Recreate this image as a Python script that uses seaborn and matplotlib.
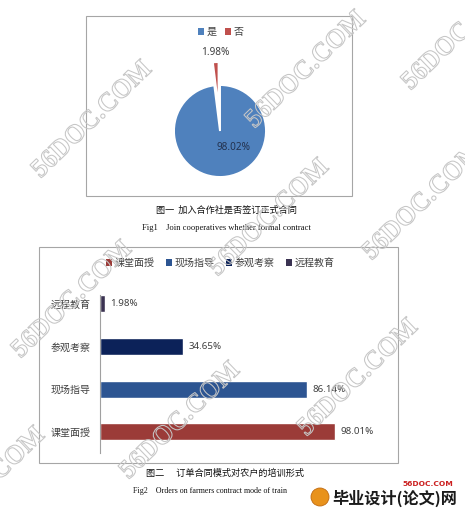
import matplotlib
matplotlib.use("Agg")
import matplotlib.pyplot as plt
import matplotlib.patheffects as pe
from matplotlib.patches import Rectangle, Ellipse
import seaborn as sns
import pandas as pd

# ---------------- data ----------------
pie_labels = ["是", "否"]
pie_values = [98.02, 1.98]
pie_colors = ["#4f81bd", "#c0504d"]

bar_categories = ["远程教育", "参观考察", "现场指导", "课堂面授"]   # top -> bottom
bar_values = [1.98, 34.65, 86.14, 98.01]
bar_colors = ["#3b3352", "#0c2259", "#2d5592", "#9b3b38"]
legend_order = ["课堂面授", "现场指导", "参观考察", "远程教育"]

caption1_cn = "图一  加入合作社是否签订正式合同"
caption1_en = "Fig1    Join cooperatives whether formal contract"
caption2_cn = "图二      订单合同模式对农户的培训形式"
caption2_en = "Fig2    Orders on farmers contract mode of train"

# ---------------- setup ----------------
sns.set_theme(style="white")
plt.rcParams["font.family"] = ["Noto Sans CJK SC", "DejaVu Sans"]

W, H = 465, 512
fig = plt.figure(figsize=(W / 100, H / 100), dpi=100)
fig.patch.set_facecolor("white")


def rect(l, t, w, h):
    return [l / W, 1 - (t + h) / H, w / W, h / H]


def fx(x):
    return x / W


def fy(y):
    return 1 - y / H


# frames
for (l, t, w, h) in [(86, 16, 266, 180), (39, 247, 359, 216)]:
    fig.patches.append(Rectangle((l / W, 1 - (t + h) / H), w / W, h / H,
                                 transform=fig.transFigure, fill=False,
                                 edgecolor="#a6a6a6", linewidth=0.8))

# ---------------- pie ----------------
R = 46
L = 1.7
axp = fig.add_axes(rect(220 - L * R, 131 - L * R, 2 * L * R, 2 * L * R))
axp.pie(pie_values, colors=pie_colors, startangle=90, counterclock=False,
        explode=[0, 0.5], radius=1,
        wedgeprops=dict(edgecolor="white", linewidth=1.4))
axp.set_xlim(-L, L)
axp.set_ylim(-L, L)
axp.set_aspect("equal")
axp.axis("off")
axp.text(0.30, -0.35, f"{pie_values[0]:.2f}%", ha="center", va="center",
         fontsize=7.2, color="#23324f", family=["Noto Sans", "DejaVu Sans"])
axp.text(-0.11, 1.70, f"{pie_values[1]:.2f}%", ha="center", va="center",
         fontsize=7.2, color="#404040", family=["Noto Sans", "DejaVu Sans"])

pie_handles = [Rectangle((0, 0), 1, 1, facecolor=c, edgecolor="none") for c in pie_colors]
fig.legend(pie_handles, pie_labels, loc="center", bbox_to_anchor=(fx(221), fy(32)),
           ncol=2, frameon=False, fontsize=7.2, handlelength=0.6, handleheight=0.6,
           handletextpad=0.3, columnspacing=0.8, labelcolor="#404040")

fig.text(fx(226), fy(210), caption1_cn, ha="center", va="center", fontsize=6.6,
         color="#111111")
fig.text(fx(226), fy(228), caption1_en, ha="center", va="center", fontsize=6.1,
         color="#111111", family=["Liberation Serif"])

# ---------------- bars ----------------
axb = fig.add_axes(rect(100, 453 - 4 * 42.6, 288, 4 * 42.6))
df = pd.DataFrame({"cat": bar_categories, "val": bar_values})
sns.barplot(data=df, x="val", y="cat", hue="cat", order=bar_categories,
            hue_order=bar_categories, palette=bar_colors, orient="h",
            width=0.4, dodge=False, legend=False, ax=axb, saturation=1)
axb.set_xlim(0, 120)
axb.set_ylim(3.5, -0.5)
axb.set_xlabel("")
axb.set_ylabel("")
axb.set_xticks([])
for s in ["top", "right", "bottom"]:
    axb.spines[s].set_visible(False)
axb.spines["left"].set_color("#a0a0a0")
axb.spines["left"].set_linewidth(0.8)
axb.spines["left"].set_bounds(3.5, -0.22)
axb.tick_params(axis="y", length=0, pad=7, labelsize=7.2, labelcolor="#404040")
axb.set_facecolor("none")
for c in axb.containers:
    axb.bar_label(c, fmt="%.2f%%", padding=4, fontsize=7, color="#404040",
                  family=["Noto Sans", "DejaVu Sans"])

color_map = dict(zip(bar_categories, bar_colors))
bar_handles = [Rectangle((0, 0), 1, 1, facecolor=color_map[k], edgecolor="none")
               for k in legend_order]
fig.legend(bar_handles, legend_order, loc="center", bbox_to_anchor=(fx(220), fy(263)),
           ncol=4, frameon=False, fontsize=7.2, handlelength=0.6, handleheight=0.6,
           handletextpad=0.3, columnspacing=1.1, labelcolor="#404040")

fig.text(fx(225), fy(473), caption2_cn, ha="center", va="center", fontsize=6.6,
         color="#111111")
fig.text(fx(210), fy(491), caption2_en, ha="center", va="center", fontsize=5.8,
         color="#111111", family=["Liberation Serif"])

# ---------------- logo ----------------
fig.patches.append(Ellipse((fx(320), fy(497)), 18 / W, 18 / H,
                           transform=fig.transFigure, facecolor="#e8921c",
                           edgecolor="#c06a10", linewidth=0.6))
fig.text(fx(453), fy(484), "56DOC.COM", ha="right", va="center", fontsize=5.4,
         color="#cc2222", weight="bold", family=["DejaVu Sans"])
fig.text(fx(457), fy(498), "毕业设计(论文)网", ha="right", va="center", fontsize=11.6,
         color="#1a1a1a", weight="bold")

# ---------------- watermarks ----------------
wm_centers = [(92, 120), (306, 70), (462, 32), (423, 202), (269, 218),
              (72, 300), (180, 421), (358, 378), (-15, 486)]
for (x, y) in wm_centers:
    fig.text(fx(x), fy(y), "56DOC.COM", ha="center", va="center", rotation=44,
             fontsize=19, weight="bold", family=["Liberation Serif"],
             color=(1, 1, 1, 0), zorder=20,
             path_effects=[pe.Stroke(linewidth=0.75, foreground="#c6c6c6")])

fig.savefig("out.png", dpi=100)
